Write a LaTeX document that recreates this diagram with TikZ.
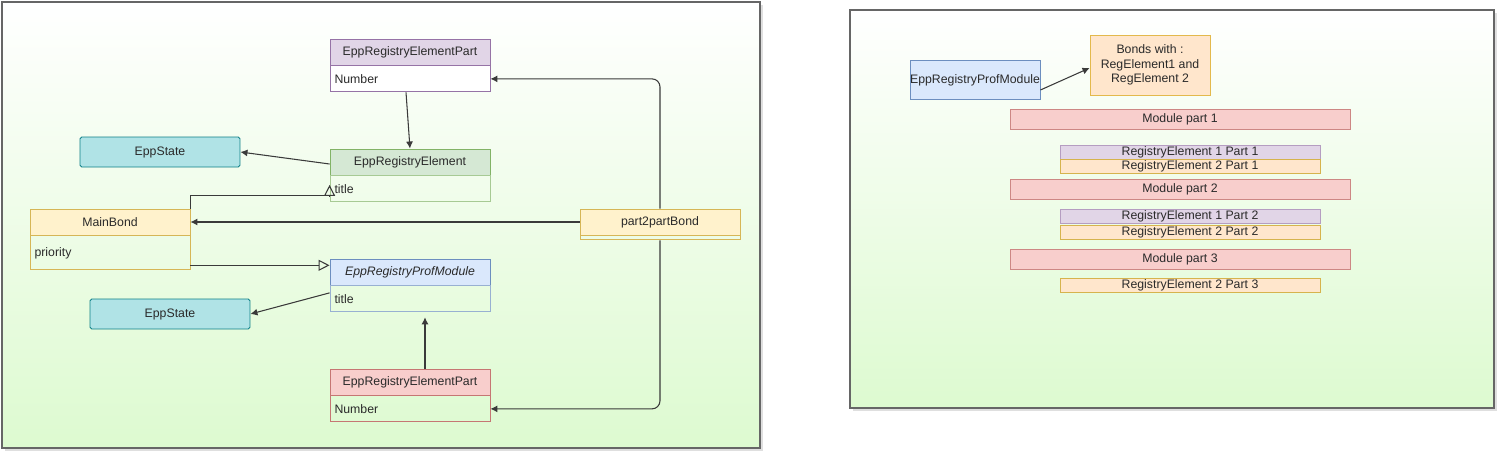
\documentclass[tikz,border=0pt]{standalone}
\usepackage{fontspec}
\setmainfont{Liberation Sans}
\usetikzlibrary{positioning, arrows.meta, shadows}

\definecolor{purpleF}{HTML}{E1D5E7}\definecolor{purpleD}{HTML}{9673A6}
\definecolor{greenF}{HTML}{D5E8D4}\definecolor{greenD}{HTML}{82B366}
\definecolor{yellowF}{HTML}{FFF2CC}\definecolor{yellowD}{HTML}{D6B656}
\definecolor{blueF}{HTML}{DAE8FC}\definecolor{blueD}{HTML}{6C8EBF}
\definecolor{redF}{HTML}{F8CECC}\definecolor{redD}{HTML}{B85450}
\definecolor{tealF}{HTML}{B0E3E6}\definecolor{tealD}{HTML}{0E8088}
\definecolor{orangeF}{HTML}{FFE6CC}\definecolor{orangeD}{HTML}{D79B00}
\definecolor{edgeC}{HTML}{3A3A3A}
\definecolor{textC}{HTML}{2A2A2A}
\definecolor{panelB}{HTML}{DDFAD0}

\begin{document}
\begin{tikzpicture}[x=0.02cm, y=-0.02cm, >={Latex[length=4pt,width=4pt]},
    font=\fontsize{7}{8.4}\selectfont, text=textC, line width=0.5pt,
    panel/.style={draw=gray!80!black, line width=0.6pt, top color=white, bottom color=panelB,
      drop shadow={shadow xshift=1.5pt, shadow yshift=-1.5pt, opacity=0.25}},
    hdr/.style={draw, minimum width=3.2cm, minimum height=0.52cm, inner sep=0pt},
    attr/.style={draw, minimum height=0.52cm, text width=3.02cm, inner xsep=0.09cm,
      inner ysep=0pt, align=left},
    statebox/.style={draw=tealD, fill=tealF, minimum width=3.2cm, minimum height=0.6cm,
      inner sep=0pt, rounded corners=1pt},
    module/.style={draw=redD!70, fill=redF, minimum width=6.8cm, minimum height=0.4cm,
      inner sep=0pt},
    regpart/.style={minimum width=5.2cm, minimum height=0.28cm, inner sep=0pt},
    line/.style={->, draw=edgeC, line width=0.6pt},
    inh/.style={-{Triangle[open, length=0.22cm, width=0.22cm]}, draw=edgeC, line width=0.6pt}]

  \useasboundingbox (0,0) rectangle (1502,460);

  % the two panels
  \draw[panel] (2,2) rectangle (760,448);
  \draw[panel] (850,10) rectangle (1494,408);

  % left panel: classes
  \node[hdr, draw=purpleD, fill=purpleF] (partA) at (410,52) {EppRegistryElementPart};
  \node[attr, draw=purpleD, fill=white, below=0pt of partA] (partAnum) {Number};

  \node[statebox] (stateA) at (160,152) {EppState};

  \node[hdr, draw=greenD, fill=greenF] (elem) at (410,162) {EppRegistryElement};
  \node[attr, draw=greenD!70, below=0pt of elem] (elembody) {title};

  \node[hdr, draw=yellowD, fill=yellowF] (mainbond) at (110,222) {MainBond};
  \node[attr, draw=yellowD, minimum height=0.68cm, below=0pt of mainbond] (mainbondbody)
    {priority\\[0.18cm]};

  \node[hdr, draw=yellowD, fill=yellowF] (p2p) at (660,222) {part2partBond};
  \node[hdr, draw=yellowD, minimum height=0.08cm, below=0pt of p2p] (p2pbody) {};

  \node[hdr, draw=blueD, fill=blueF, font=\fontsize{7}{8.4}\selectfont\itshape] (prof)
    at (410,272) {EppRegistryProfModule};
  \node[attr, draw=blueD!70, below=0pt of prof] (profbody) {title};

  \node[statebox] (stateB) at (170,314) {EppState};

  \node[hdr, draw=redD!80, fill=redF] (partB) at (410,382) {EppRegistryElementPart};
  \node[attr, draw=redD!80, below=0pt of partB] (partBnum) {Number};

  % left panel: connectors
  \draw[line] ([xshift=-0.08cm]partAnum.south) -- (elem.north);
  \draw[line] ([yshift=-0.04cm]elem.west) -- (stateA.east);
  \draw[inh] (mainbond.north east) -- ++(0,-13) -| ([yshift=0.08cm]elembody.west);
  \draw[line] (p2p.west) -- (mainbond.east);
  \draw[inh] ([yshift=0.1cm]mainbondbody.south east)
    -- ([yshift=0.1cm]mainbondbody.south east -| prof.west);
  \draw[line] ([yshift=0.12cm]profbody.west) -- (stateB.east);
  \draw[line] ([xshift=0.3cm]partB.north) -- ([xshift=0.3cm,yshift=-0.1cm]profbody.south);
  \draw[line, rounded corners=0.16cm] (p2p.north) |- (partAnum.east);
  \draw[line, rounded corners=0.16cm] (p2pbody.south) |- (partBnum.east);

  % right panel
  \node[draw=blueD, fill=blueF, minimum width=2.6cm, minimum height=0.78cm, inner sep=0pt]
    (profB) at (975,80) {EppRegistryProfModule};
  \node[draw=orangeD!70, fill=orangeF, minimum width=2.4cm, minimum height=1.2cm,
    inner sep=0pt, align=center] (bonds) at (1150,65) {Bonds with :\\RegElement1 and\\RegElement 2};
  \draw[line] ([yshift=-0.2cm]profB.east) -- ([yshift=-0.06cm]bonds.west);

  \foreach \i/\y in {1/119, 2/189, 3/259}
    \node[module] (mod\i) at (1180,\y) {Module part \i};

  \foreach \p/\y in {1/152, 2/216}
    \node[regpart, draw=purpleD!70, fill=purpleF] (regA\p) at (1190,\y) {RegistryElement 1 Part \p};
  \foreach \p/\y in {1/166, 2/232, 3/285}
    \node[regpart, draw=yellowD!90!orangeD, fill=orangeF] (regB\p) at (1190,\y) {RegistryElement 2 Part \p};

\end{tikzpicture}
\end{document}
